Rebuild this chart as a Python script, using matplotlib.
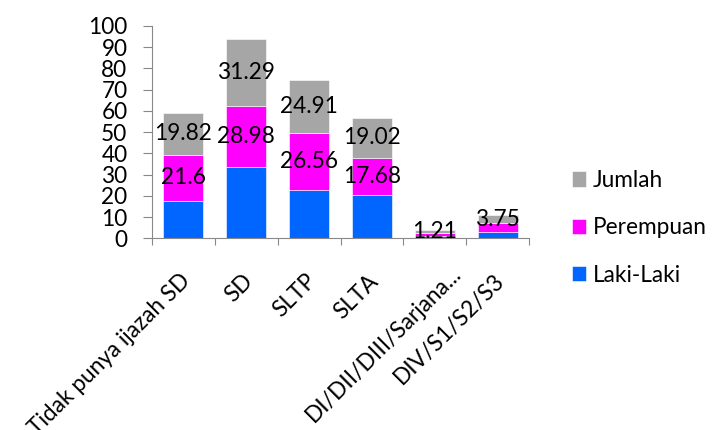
import matplotlib
matplotlib.use("Agg")
import matplotlib.pyplot as plt
import matplotlib.transforms as mtransforms
import numpy as np

categories = ["Tidak punya ijazah SD", "SD", "SLTP", "SLTA", "DI/DII/DIII/Sarjana...", "DIV/S1/S2/S3"]
laki = [17.8, 33.5, 22.9, 20.2, 1.3, 3.2]
perempuan = [21.6, 28.98, 26.56, 17.68, 1.4, 3.9]
jumlah = [19.82, 31.29, 24.91, 19.02, 1.21, 3.75]
perempuan_labels = ["21.6", "28.98", "26.56", "17.68", "", ""]
jumlah_labels = ["19.82", "31.29", "24.91", "19.02", "1.21", "3.75"]
yticks = list(range(0, 101, 10))

plt.rcParams['font.family'] = ['Lato', 'DejaVu Sans']
FS = 16.3

fig = plt.figure(figsize=(7.22, 4.30), dpi=100)
L, R = 151.7 / 722, 529.3 / 722
ax = fig.add_axes([L, 1 - 238.3 / 430, R - L, (238.3 - 26) / 430])

x = np.arange(len(categories))
w = 0.64
c_l, c_p, c_j = "#0066FF", "#FF00FF", "#A6A6A6"
b1 = ax.bar(x, laki, w, color=c_l, label="Laki-Laki", edgecolor="white", linewidth=0.4)
b2 = ax.bar(x, perempuan, w, bottom=laki, color=c_p, label="Perempuan", edgecolor="white", linewidth=0.4)
bot3 = np.array(laki) + np.array(perempuan)
b3 = ax.bar(x, jumlah, w, bottom=bot3, color=c_j, label="Jumlah", edgecolor="white", linewidth=0.4)

ax.bar_label(b2, labels=perempuan_labels, label_type="center", fontsize=FS, color="black")
ax.bar_label(b3, labels=jumlah_labels, label_type="center", fontsize=FS, color="black")

ax.set_xlim(-0.5, len(categories) - 0.5)
ax.set_ylim(0, 100)
ax.set_yticks(yticks)
ax.set_yticklabels([str(t) for t in yticks], fontsize=FS)
ax.tick_params(axis="y", length=6.5, color="#888888", pad=11, width=0.8)

ax.set_xticks(x)
ax.set_xticklabels(categories, rotation=45, ha="right", rotation_mode="anchor", fontsize=FS)
ax.tick_params(axis="x", length=0, pad=23)
for i, lab in enumerate(ax.get_xticklabels()):
    dx, dy = (-0.04, 0.0) if i != 4 else (0.16, 0.08)
    lab.set_transform(lab.get_transform() + mtransforms.ScaledTranslation(dx, dy, fig.dpi_scale_trans))
ax.set_xticks(np.arange(-0.5, len(categories) + 0.5, 1), minor=True)
ax.tick_params(axis="x", which="minor", length=5, color="#888888", width=0.8)

for s in ["top", "right"]:
    ax.spines[s].set_visible(False)
for s in ["left", "bottom"]:
    ax.spines[s].set_color("#888888")
    ax.spines[s].set_linewidth(0.8)

handles = [b3, b2, b1]
labels = ["Jumlah", "Perempuan", "Laki-Laki"]
fig.legend(handles, labels, loc="center left", bbox_to_anchor=(0.776, 0.47),
           frameon=False, fontsize=FS, handlelength=0.65, handleheight=0.65,
           handletextpad=0.3, labelspacing=1.17, borderpad=0)

fig.savefig("out.png", dpi=100)
